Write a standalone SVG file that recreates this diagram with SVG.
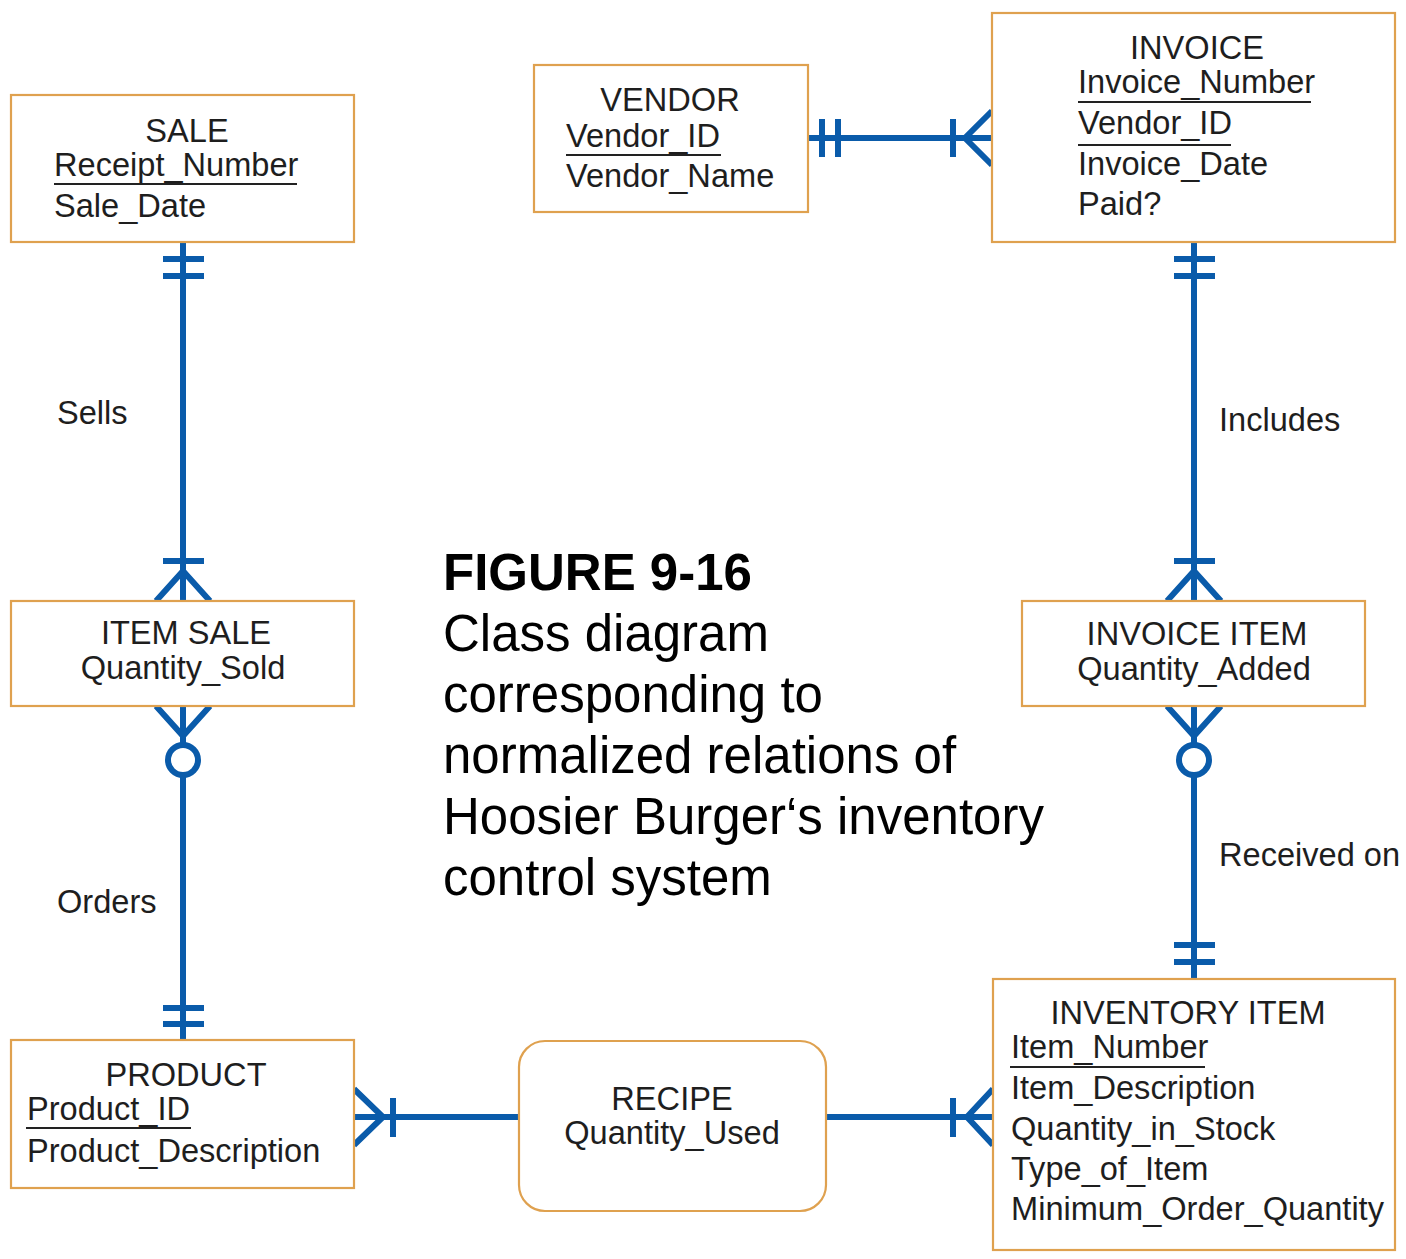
<svg xmlns="http://www.w3.org/2000/svg" width="1406" height="1259" viewBox="0 0 1406 1259">
  <style>
    .box { fill: #ffffff; stroke: #DFA14F; stroke-width: 2.2; }
    .t { font-family: "Liberation Sans", Arial, sans-serif; font-size: 32.6px; fill: #1e1e1e; }
    .c { text-anchor: middle; }
    .ul { stroke: #222222; stroke-width: 2; }
    .conn { fill: none; stroke: #0A5BAA; stroke-width: 6; stroke-linecap: butt; }
    .lbl { font-family: "Liberation Sans", Arial, sans-serif; font-size: 32.6px; fill: #1e1e1e; }
    .cap { font-family: "Liberation Sans", Arial, sans-serif; font-size: 51px; fill: #000000; }
  </style>

  <rect width="1406" height="1259" fill="#ffffff"/>

  <!-- relationship lines with crow's-foot ends -->
  <g id="connectors" class="conn">
    <!-- SALE to ITEM SALE: one-and-only-one / one-or-many -->
    <path d="M183 243 V601"/>
    <path d="M163 259 H204 M163 276 H204"/>
    <path d="M163 561 H204"/>
    <path d="M156 601 L183 571 L210 601"/>

    <!-- ITEM SALE to PRODUCT: zero-or-many / one-and-only-one -->
    <path d="M183 706 V745 M183 775 V1040"/>
    <path d="M156 706 L183 736 L210 706"/>
    <circle cx="183" cy="760" r="15"/>
    <path d="M163 1008 H204 M163 1024 H204"/>

    <!-- VENDOR to INVOICE -->
    <path d="M808 138 H992"/>
    <path d="M822 119 V157 M838 119 V157"/>
    <path d="M953 119 V157"/>
    <path d="M992 111 L965 138 L992 165"/>

    <!-- INVOICE to INVOICE ITEM -->
    <path d="M1194 243 V601"/>
    <path d="M1174 259 H1215 M1174 276 H1215"/>
    <path d="M1174 561 H1215"/>
    <path d="M1167 601 L1194 571 L1221 601"/>

    <!-- INVOICE ITEM to INVENTORY ITEM -->
    <path d="M1194 706 V745 M1194 775 V979"/>
    <path d="M1167 706 L1194 736 L1221 706"/>
    <circle cx="1194" cy="760" r="15"/>
    <path d="M1174 945 H1215 M1174 962 H1215"/>

    <!-- PRODUCT to RECIPE -->
    <path d="M354 1117 H519"/>
    <path d="M354 1089 L383 1117 L354 1145"/>
    <path d="M393 1098 V1137"/>

    <!-- RECIPE to INVENTORY ITEM -->
    <path d="M826 1117 H993"/>
    <path d="M953 1098 V1137"/>
    <path d="M993 1089 L967 1117 L993 1145"/>
  </g>

  <!-- relationship names -->
  <g id="labels">
    <text class="lbl" x="57" y="424">Sells</text>
    <text class="lbl" x="57" y="913">Orders</text>
    <text class="lbl" x="1219" y="431">Includes</text>
    <text class="lbl" x="1219" y="866">Received on</text>
  </g>

  <g id="sale">
    <rect class="box" x="11" y="95" width="343" height="147"/>
    <text class="t c" x="187" y="142">SALE</text>
    <text class="t" x="54" y="176">Receipt_Number</text>
    <line class="ul" x1="54" y1="184" x2="297" y2="184"/>
    <text class="t" x="54" y="217">Sale_Date</text>
  </g>

  <g id="vendor">
    <rect class="box" x="534" y="65" width="274" height="147"/>
    <text class="t c" x="670" y="111">VENDOR</text>
    <text class="t" x="566" y="147">Vendor_ID</text>
    <line class="ul" x1="566" y1="155" x2="721" y2="155"/>
    <text class="t" x="566" y="187">Vendor_Name</text>
  </g>

  <g id="invoice">
    <rect class="box" x="992" y="13" width="403" height="229"/>
    <text class="t c" x="1197" y="59">INVOICE</text>
    <text class="t" x="1078" y="93">Invoice_Number</text>
    <line class="ul" x1="1078" y1="102" x2="1311" y2="102"/>
    <text class="t" x="1078" y="134">Vendor_ID</text>
    <line class="ul" x1="1078" y1="145" x2="1231" y2="145"/>
    <text class="t" x="1078" y="175">Invoice_Date</text>
    <text class="t" x="1078" y="215">Paid?</text>
  </g>

  <g id="item-sale">
    <rect class="box" x="11" y="601" width="343" height="105"/>
    <text class="t c" x="186" y="644">ITEM SALE</text>
    <text class="t c" x="183" y="679">Quantity_Sold</text>
  </g>

  <g id="invoice-item">
    <rect class="box" x="1022" y="601" width="343" height="105"/>
    <text class="t c" x="1197" y="645">INVOICE ITEM</text>
    <text class="t c" x="1194" y="680">Quantity_Added</text>
  </g>

  <g id="product">
    <rect class="box" x="11" y="1040" width="343" height="148"/>
    <text class="t c" x="186" y="1086">PRODUCT</text>
    <text class="t" x="27" y="1120">Product_ID</text>
    <line class="ul" x1="26" y1="1128" x2="191" y2="1128"/>
    <text class="t" x="27" y="1162">Product_Description</text>
  </g>

  <g id="recipe">
    <rect class="box" x="519" y="1041" width="307" height="170" rx="26" ry="26"/>
    <text class="t c" x="672" y="1110">RECIPE</text>
    <text class="t c" x="672" y="1144">Quantity_Used</text>
  </g>

  <g id="inventory-item">
    <rect class="box" x="993" y="979" width="402" height="271"/>
    <text class="t c" x="1188" y="1024">INVENTORY ITEM</text>
    <text class="t" x="1011" y="1058">Item_Number</text>
    <line class="ul" x1="1010" y1="1067" x2="1205" y2="1067"/>
    <text class="t" x="1011" y="1099">Item_Description</text>
    <text class="t" x="1011" y="1140">Quantity_in_Stock</text>
    <text class="t" x="1011" y="1180">Type_of_Item</text>
    <text class="t" x="1011" y="1220">Minimum_Order_Quantity</text>
  </g>

  <!-- figure caption -->
  <g id="caption" class="cap">
    <text x="443" y="590" font-weight="bold">FIGURE 9-16</text>
    <text x="443" y="651">Class diagram</text>
    <text x="443" y="712">corresponding to</text>
    <text x="443" y="773">normalized relations of</text>
    <text x="443" y="834">Hoosier Burger‘s inventory</text>
    <text x="443" y="895">control system</text>
  </g>
</svg>
